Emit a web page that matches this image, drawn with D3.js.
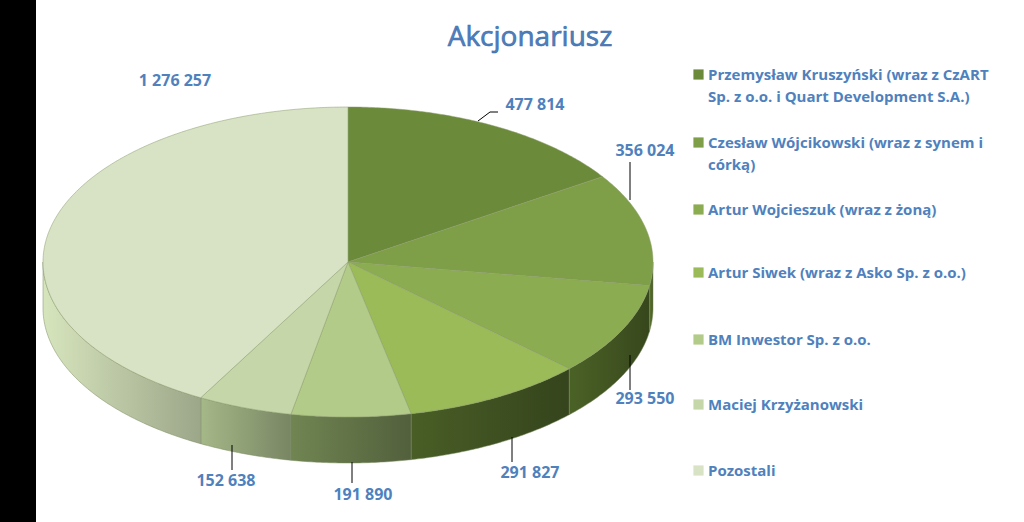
<!DOCTYPE html>
<html>
<head>
<meta charset="utf-8">
<script src="https://cdn.jsdelivr.net/npm/d3@7"></script>
<style>
  body { margin: 0; background: #fff; }
  text { font-family: "Liberation Sans Narrow", "Open Sans", sans-serif; font-weight: bold; fill: #4f81bd; }
</style>
</head>
<body>
<svg id="chart" width="1024" height="522"></svg>
<script>
// data
const holders = [
  'Przemysław Kruszyński (wraz z CzART|Sp. z o.o. i Quart Development S.A.)',
  'Czesław Wójcikowski (wraz z synem i|córką)',
  'Artur Wojcieszuk (wraz z żoną)',
  'Artur Siwek (wraz z Asko Sp. z o.o.)',
  'BM Inwestor Sp. z o.o.',
  'Maciej Krzyżanowski',
  'Pozostali'
];
const shares = [477814, 356024, 293550, 291827, 191890, 152638, 1276257];
const colors = ['#6b8a3a', '#7e9f47', '#8cac52', '#9bbb59', '#b2cb88', '#c5d7a9', '#d7e3c4'];
const sideColors = ['#4a5f27', '#4e6428', '#3f5220', '#3d4f20', '#5e6f45', '#8a9a72', '#b4c09e'];

const svg = d3.select('#chart');
svg.append('rect').attr('width', 36).attr('height', 522).attr('fill', '#000');

const cx = 348, cy = 262, rx = 305, ry = 155, depth = 46;
const pt = (a, dy = 0) => [cx + rx * Math.sin(a), cy - ry * Math.cos(a) + dy];
const line = d3.line();
const fmt = v => d3.format(',')(v).replace(/,/g, ' ');

const arcs = d3.pie().sort(null).value(d => d)(shares);
const defs = svg.append('defs');

// side walls (front half only)
arcs.forEach((d, i) => {
  const a0 = Math.max(d.startAngle, Math.PI / 2), a1 = Math.min(d.endAngle, 3 * Math.PI / 2);
  if (a1 <= a0) return;
  const steps = d3.range(a0, a1, 0.01).concat([a1]);
  const pts = steps.map(a => pt(a)).concat(steps.slice().reverse().map(a => pt(a, depth)));
  const g = defs.append('linearGradient').attr('id', 'side' + i);
  const base = d3.color(sideColors[i]);
  g.append('stop').attr('offset', '0%').attr('stop-color', base.brighter(0.5));
  g.append('stop').attr('offset', '100%').attr('stop-color', base.darker(0.4));
  svg.append('path').attr('d', line(pts) + 'Z')
    .attr('fill', `url(#side${i})`).attr('stroke', '#7a8a60').attr('stroke-width', 0.5);
});

// top faces
arcs.forEach((d, i) => {
  const steps = d3.range(d.startAngle, d.endAngle, 0.01).concat([d.endAngle]);
  const pts = [[cx, cy]].concat(steps.map(a => pt(a)));
  svg.append('path').attr('d', line(pts) + 'Z')
    .attr('fill', colors[i]).attr('stroke', '#8a9a6a').attr('stroke-width', 0.5);
});

// value labels with leader lines
const labelPos = [[535, 110], [645, 156], [645, 404], [530, 478], [363, 500], [226, 486], [175, 86]];
const leaders = [
  [[478, 121], [490, 112], [498, 112]],
  [[630, 200], [630, 162]],
  [[630, 355], [630, 390]],
  [[512, 437], [512, 462]],
  [[352, 462], [352, 483]],
  [[232, 445], [232, 470]],
  null
];
shares.forEach((v, i) => {
  if (leaders[i]) svg.append('path').attr('d', line(leaders[i])).attr('fill', 'none').attr('stroke', '#000');
  svg.append('text').attr('x', labelPos[i][0]).attr('y', labelPos[i][1])
    .attr('text-anchor', 'middle').attr('font-size', 16).text(fmt(v));
});

// title
svg.append('text').attr('x', 530).attr('y', 46).attr('text-anchor', 'middle')
  .attr('font-size', 28).attr('font-weight', 'normal').style('font-weight', 'normal')
  .attr('stroke', '#3a6aa8').attr('stroke-width', 0.6).text('Akcjonariusz');

// legend
const legendY = [80, 148, 215, 278, 345, 410, 476];
holders.forEach((h, i) => {
  const g = svg.append('g').attr('transform', `translate(693,${legendY[i]})`);
  g.append('rect').attr('x', 0).attr('y', -11).attr('width', 11).attr('height', 11)
    .attr('fill', colors[i]).attr('stroke', '#fff').attr('stroke-width', 0.8);
  h.split('|').forEach((t, j) => {
    g.append('text').attr('x', 15).attr('y', j * 22).attr('font-size', 15).text(t);
  });
});
</script>
</body>
</html>
